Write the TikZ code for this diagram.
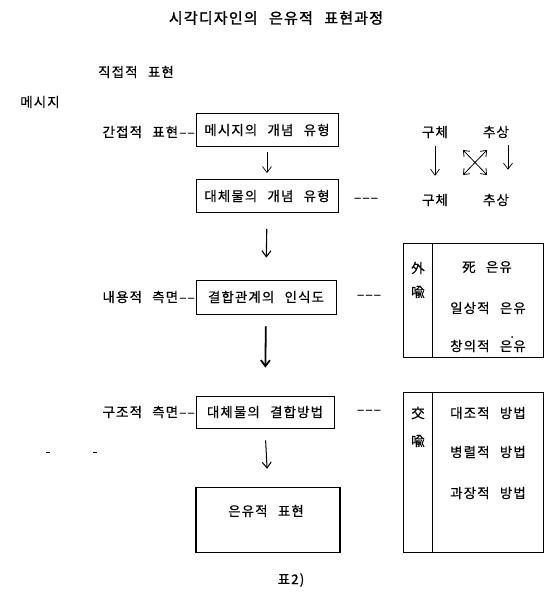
\documentclass[tikz,border=0pt]{standalone}
\usepackage{fontspec}
\setmainfont{Noto Sans CJK KR}[Ligatures=TeXOff,LetterSpace=8,WordSpace=2.5,FakeBold=0.4]
\newfontfamily\titlefont{Noto Sans CJK KR}[Ligatures=TeXOff,LetterSpace=8,WordSpace=2.5,FakeBold=1.6]
\usetikzlibrary{arrows.meta}
\begin{document}
\begin{tikzpicture}[x=1pt,y=-1pt,
  txt/.style={inner sep=0pt,font=\fontsize{13.5}{15}\selectfont},
  box/.style={draw,line width=0.7pt,inner sep=0pt,minimum width=142pt,minimum height=33pt,font=\fontsize{13.5}{15}\selectfont},
  flow/.style={-{Straight Barb[length=6pt,width=9pt]},line width=#1},
  flow/.default=0.8pt,
  grp/.style={draw,line width=0.7pt,inner sep=0pt}]
\useasboundingbox (0,0) rectangle (552,602);
% title
\node[txt,font=\fontsize{15}{17}\selectfont\titlefont] (title) at (276,18) {시각디자인의 은유적 표현과정};
\node[txt] (direct) at (136,72) {직접적 표현};
\node[txt] (msg) at (40,102) {메시지};
% main column
\node[box] (b1) at (267,130) {메시지의 개념 유형};
\node[box] (b2) at (267,196) {대체물의 개념 유형};
\node[box,minimum width=140pt,minimum height=34pt] (b3) at (266,297) {결합관계의 인식도};
\node[box,minimum width=138pt,minimum height=32pt] (b4) at (265,412) {대체물의 결합방법};
\node[box,minimum width=144pt,minimum height=65pt,line width=1.3pt] (b5) at (268,520) {};
\node[txt] (b5t) at (266,511) {은유적 표현};
% left labels
\node[txt,anchor=east] (l1) at (195,132) {간접적 표현––};
\node[txt,anchor=east] (l3) at (195,297) {내용적 측면––};
\node[txt,anchor=east] (l4) at (195,412) {구조적 측면––};
% right dashes
\node[txt] (d2) at (366,200) {–––};
\node[txt] (d3) at (369,297) {–––};
\node[txt] (d4) at (369,412) {–––};
% arrows
\draw[flow=0.7pt,shorten <=5pt,shorten >=6pt] (b1.south) -- (b2.north);
\draw[flow=1.1pt,shorten <=16pt,shorten >=22pt] (b2.south) -- (b3.north);
\draw[flow=1.8pt,shorten <=12pt,shorten >=28pt] (b3.south) -- (b4.north);
\draw[flow=1.0pt,shorten <=12pt,shorten >=18pt] (b4.south) -- (b5.north);
% concrete / abstract
\node[txt] (c1) at (435,132) {구체};
\node[txt] (a1) at (496,132) {추상};
\node[txt] (c2) at (435,200) {구체};
\node[txt] (a2) at (496,200) {추상};
\draw[flow=0.7pt,shorten <=8pt,shorten >=18pt] (c1.south) -- (c2.north);
\draw[flow=0.7pt,shorten <=7pt,shorten >=24pt] ([xshift=12pt]a1.south) -- ([xshift=12pt]a2.north);
\coordinate (xa) at (463,150);
\coordinate (xb) at (487,175);
\coordinate (xc) at (487,150);
\coordinate (xd) at (463,175);
\draw[{Straight Barb[length=5pt,width=8pt]}-{Straight Barb[length=5pt,width=8pt]},line width=0.8pt] (xa) -- (xb);
\draw[{Straight Barb[length=5pt,width=8pt]}-{Straight Barb[length=5pt,width=8pt]},line width=0.8pt] (xc) -- (xd);
% metaphor group 1
\node[grp,minimum width=140pt,minimum height=114pt] (g1) at (473,300) {};
\draw[line width=0.7pt] ([xshift=30pt]g1.north west) -- ([xshift=30pt]g1.south west);
\node[txt] (w1) at (418,268) {外};
\node[txt] (y1) at (418,292) {喩};
\node[txt] (m1) at (487,267) {死 은유};
\node[txt] (m2) at (488,308) {일상적 은유};
\node[txt] (m3) at (488,346) {창의적 은유};
\fill (512,337) circle (1pt);
% metaphor group 2
\node[grp,minimum width=140pt,minimum height=160pt] (g2) at (473,472) {};
\draw[line width=0.7pt] ([xshift=30pt]g2.north west) -- ([xshift=30pt]g2.south west);
\node[txt] (w2) at (418,413) {交};
\node[txt] (y2) at (418,441) {喩};
\node[txt] (n1) at (488,413) {대조적 방법};
\node[txt] (n2) at (488,452) {병렬적 방법};
\node[txt] (n3) at (488,493) {과장적 방법};
% stray marks
\draw[line width=0.7pt] (46,452) -- (50,452);
\draw[line width=0.7pt] (93,452) -- (97,452);
% caption
\node[txt] (cap) at (291,580) {표2)};
\end{tikzpicture}
\end{document}
